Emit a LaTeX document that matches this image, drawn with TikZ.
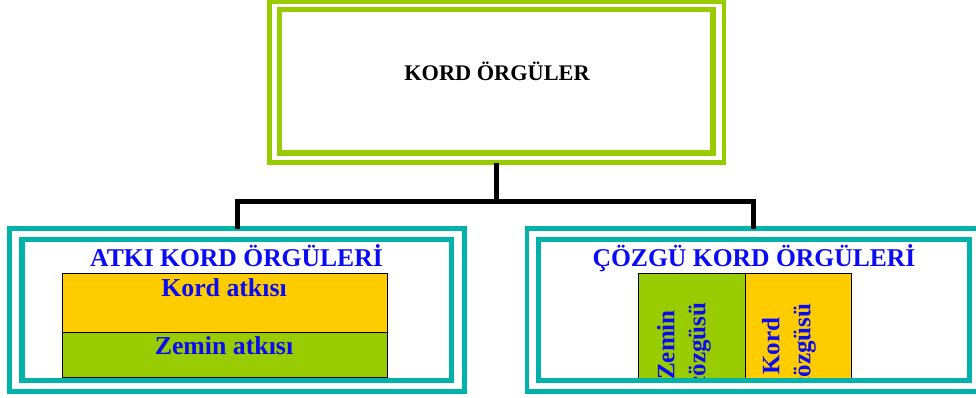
\documentclass[tikz,border=0pt]{standalone}
\usepackage{fontspec}
\setmainfont{Liberation Serif}
\definecolor{teal1}{RGB}{0,178,170}
\definecolor{lime1}{RGB}{153,204,0}
\definecolor{gold1}{RGB}{255,204,0}
\definecolor{txtblue}{RGB}{10,10,245}
\begin{document}
\begin{tikzpicture}[x=1pt,y=-1pt,
  frame/.style={draw, inner sep=0pt, outer sep=0pt},
  outerline/.style={frame, line width=4.5pt},
  innerline/.style={frame, line width=5.5pt},
  conn/.style={draw=black, line width=5pt, line join=miter},
  cell/.style={draw=black, line width=1pt, inner sep=0pt, outer sep=0pt},
  toptxt/.style={inner sep=0pt, anchor=base, font=\fontsize{22.3}{26}\selectfont\bfseries, text=black},
  ttl/.style={inner sep=0pt, anchor=base, font=\fontsize{25.6}{30}\selectfont\bfseries, text=txtblue},
  lbl/.style={inner sep=0pt, anchor=base, font=\fontsize{25.8}{30}\selectfont\bfseries, text=txtblue},
  vtxt/.style={inner sep=0pt, rotate=90, align=center, font=\fontsize{25}{31}\selectfont\bfseries, text=txtblue}]
\useasboundingbox (0,0) rectangle (976,397);
\fill[white] (0,0) rectangle (976,397);

% outer frames and connectors
\node[outerline, draw=lime1, minimum width=454.5pt, minimum height=161pt] (topout) at (496.75,82) {};
\node[outerline, draw=teal1, minimum width=455pt, minimum height=163pt] (leftout) at (237,310) {};
\node[outerline, draw=teal1, minimum width=453pt, minimum height=163pt] (rightout) at (753.5,310) {};
\coordinate (hub) at (496.75,201);
\draw[conn] (topout.south) -- (hub);
\draw[conn] (leftout.north) |- (hub) -| (rightout.north);

% top box
\node[innerline, draw=lime1, minimum width=433.5pt, minimum height=143.5pt] (topin) at (496.25,81.25) {};
\node[toptxt] (toptitle) at (497,80) {KORD ÖRGÜLER};

% left box
\node[cell, fill=gold1, minimum width=325pt, minimum height=59pt] (kordatki) at (224.5,302.5) {};
\node[cell, fill=lime1, minimum width=325pt, minimum height=45pt] (zeminatki) at (224.5,354.5) {};
\node[lbl] (kordatkitxt) at (224,296) {Kord atkısı};
\node[lbl] (zeminatkitxt) at (224,354) {Zemin atkısı};
\node[ttl] (lefttitle) at (236.5,266) {ATKI KORD ÖRGÜLERİ};
\node[innerline, draw=teal1, minimum width=429.5pt, minimum height=141pt] (leftin) at (236.75,310) {};

% right box
\begin{scope}
  \clip (527,228) rectangle (976,379);
  \node[cell, fill=lime1, minimum width=107pt, minimum height=115pt] (zcoz) at (691.5,330.5) {};
  \node[cell, fill=gold1, minimum width=106pt, minimum height=115pt] (kcoz) at (798,330.5) {};
  \node[vtxt] (zcoztxt) at (684,345) {Zemin\\çözgüsü};
  \node[vtxt] (kcoztxt) at (789,346) {Kord\\çözgüsü};
\end{scope}
\node[ttl] (righttitle) at (754,266) {ÇÖZGÜ KORD ÖRGÜLERİ};
\node[innerline, draw=teal1, minimum width=431pt, minimum height=141pt] (rightin) at (754,310) {};
\end{tikzpicture}
\end{document}
